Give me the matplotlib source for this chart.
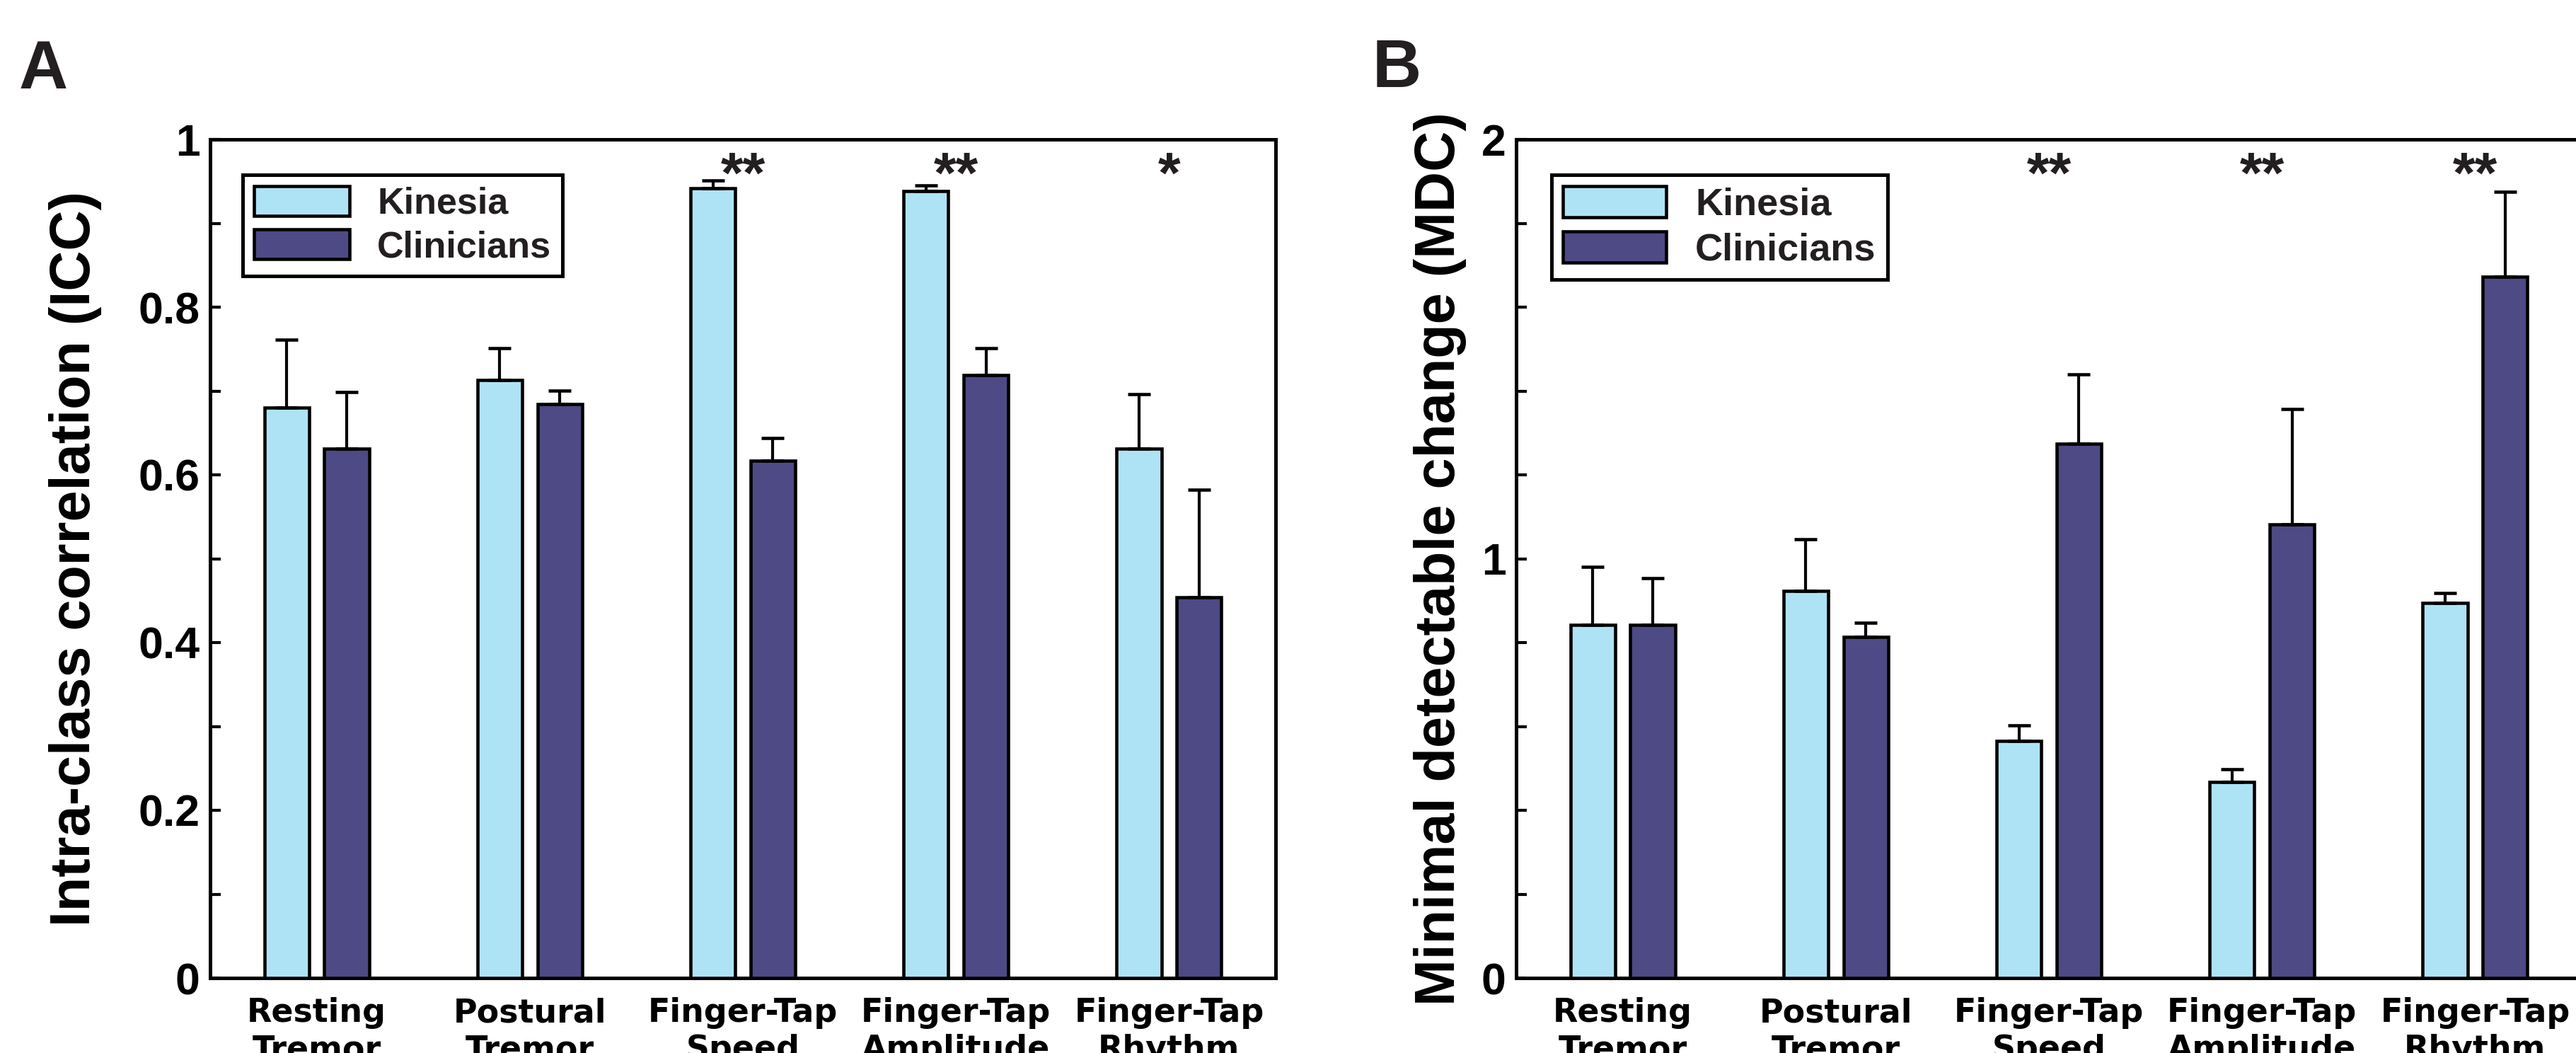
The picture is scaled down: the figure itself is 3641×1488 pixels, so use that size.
import numpy as np
import matplotlib
matplotlib.use('Agg')
import matplotlib.pyplot as plt

plt.rcParams['font.family'] = ['Liberation Sans', 'DejaVu Sans']
plt.rcParams['font.weight'] = 'bold'

categories = ['Resting\nTremor', 'Postural\nTremor', 'Finger-Tap\nSpeed',
              'Finger-Tap\nAmplitude', 'Finger-Tap\nRhythm']
series_names = ['Kinesia', 'Clinicians']

# panel A - ICC
icc_kinesia = [0.680, 0.713, 0.942, 0.938, 0.631]
icc_kinesia_err = [0.081, 0.038, 0.009, 0.007, 0.065]
icc_clinicians = [0.631, 0.684, 0.617, 0.719, 0.454]
icc_clinicians_err = [0.068, 0.016, 0.027, 0.032, 0.128]
icc_stars = ['', '', '**', '**', '*']
icc_ticks = [0, 0.2, 0.4, 0.6, 0.8, 1.0]
icc_ticklabels = ['0', '0.2', '0.4', '0.6', '0.8', '1']
icc_minor = [0.1, 0.3, 0.5, 0.7, 0.9]

# panel B - MDC
mdc_kinesia = [0.842, 0.923, 0.566, 0.467, 0.894]
mdc_kinesia_err = [0.139, 0.123, 0.036, 0.031, 0.024]
mdc_clinicians = [0.842, 0.813, 1.274, 1.082, 1.672]
mdc_clinicians_err = [0.112, 0.035, 0.165, 0.275, 0.203]
mdc_stars = ['', '', '**', '**', '**']
mdc_ticks = [0, 1, 2]
mdc_ticklabels = ['0', '1', '2']
mdc_minor = [0.2, 0.4, 0.6, 0.8, 1.2, 1.4, 1.6, 1.8]

light = '#aee3f6'
dark = '#4d4a85'
txt = '#231f20'

W, H = 3641, 1488
fig = plt.figure(figsize=(W / 300, H / 300), dpi=300)
axA = fig.add_axes([297 / W, 1 - 1382 / H, 1506 / W, 1185 / H])
axB = fig.add_axes([2143 / W, 1 - 1382 / H, 1506 / W, 1185 / H])


def panel(ax, kin, kin_err, clin, clin_err, stars, ymax, ticks, ticklabels,
          minor, ylabel, label_x, leg_x, leg_size, leg_hl):
    x = np.arange(1, len(categories) + 1)
    off, w = 0.141, 0.21
    zeros = np.zeros(len(x))
    ax.bar(x - off, kin, w, color=light, edgecolor='black', linewidth=1.1,
           label=series_names[0], zorder=3)
    ax.bar(x + off, clin, w, color=dark, edgecolor='black', linewidth=1.1,
           label=series_names[1], zorder=3)
    ax.errorbar(x - off, kin, yerr=[zeros, kin_err], fmt='none', ecolor='black',
                elinewidth=1.0, capsize=3.8, capthick=1.1, zorder=4)
    ax.errorbar(x + off, clin, yerr=[zeros, clin_err], fmt='none', ecolor='black',
                elinewidth=1.0, capsize=3.8, capthick=1.1, zorder=4)

    for i, s in enumerate(stars):
        if s:
            ax.text(x[i], 0.9865, s, transform=ax.get_xaxis_transform(),
                    ha='center', va='top', fontsize=19.5, fontweight='bold',
                    color=txt)

    ax.set_xlim(0.5, 5.5)
    ax.set_ylim(0, ymax)
    ax.set_xticks(x)
    ax.set_xticklabels(categories, fontfamily='DejaVu Sans', fontweight='bold',
                       fontsize=11)
    ax.tick_params(axis='x', length=0, pad=6.5)
    ax.set_yticks(ticks)
    ax.set_yticklabels(ticklabels, fontfamily='Liberation Sans',
                       fontweight='bold', fontsize=15)
    ax.set_yticks(minor, minor=True)
    ax.tick_params(axis='y', which='both', direction='in', length=3.6,
                   width=1.0, pad=3.4, right=False)
    for sp in ax.spines.values():
        sp.set_linewidth(1.2)

    ax.set_ylabel(ylabel, fontsize=19, fontweight='bold')
    ax.yaxis.set_label_coords(label_x, 0.5)

    leg = ax.legend(loc='upper left', bbox_to_anchor=(leg_x, 0.9578),
                    borderaxespad=0, fancybox=False, framealpha=1,
                    edgecolor='black',
                    prop=dict(family='Liberation Sans', weight='bold',
                              size=leg_size),
                    handlelength=leg_hl, handleheight=0.87,
                    handletextpad=0.75, labelspacing=0.22, borderpad=0.3)
    leg.get_frame().set_linewidth(1.2)
    for t in leg.get_texts():
        t.set_color(txt)


panel(axA, icc_kinesia, icc_kinesia_err, icc_clinicians, icc_clinicians_err,
      icc_stars, 1.0, icc_ticks, icc_ticklabels, icc_minor,
      'Intra-class correlation (ICC)', -0.1016, 0.0305, 12.5, 2.6)
panel(axB, mdc_kinesia, mdc_kinesia_err, mdc_clinicians, mdc_clinicians_err,
      mdc_stars, 2.0, mdc_ticks, mdc_ticklabels, mdc_minor,
      'Minimal detectable change (MDC)', -0.0465, 0.0332, 13, 2.7)

fig.text(27 / W, 1 - 125 / H, 'A', fontsize=23, fontweight='bold',
         ha='left', va='baseline', color=txt)
fig.text(1940 / W, 1 - 123 / H, 'B', fontsize=23, fontweight='bold',
         ha='left', va='baseline', color=txt)

fig.savefig('out.png', dpi=300)
